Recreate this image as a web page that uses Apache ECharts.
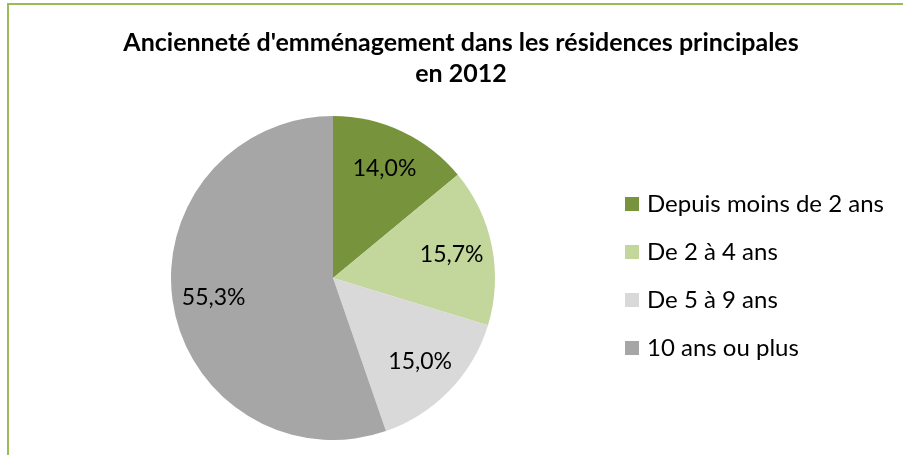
<!DOCTYPE html>
<html>
<head>
<meta charset="utf-8">
<script src="https://cdn.jsdelivr.net/npm/echarts@6/dist/echarts.min.js"></script>
<style>
  html, body { margin: 0; padding: 0; background: #ffffff; }
  #chart { width: 903px; height: 455px; }
</style>
</head>
<body>
<div id="chart"></div>
<script>
  // data
  var categories = ['Depuis moins de 2 ans', 'De 2 à 4 ans', 'De 5 à 9 ans', '10 ans ou plus']
  var shares = [14.0, 15.7, 15.0, 55.3]
  var colors = ['#77933C', '#C3D69B', '#D9D9D9', '#A6A6A6']
  var titleText = "Ancienneté d'emménagement dans les résidences principales\nen 2012"

  var pieData = categories.map(function (name, i) {
    return { name: name, value: shares[i], itemStyle: { color: colors[i] } }
  })

  var chart = echarts.init(document.getElementById('chart'), null, { renderer: 'canvas' })

  chart.setOption({
    backgroundColor: '#ffffff',
    animation: false,
    title: {
      text: titleText,
      left: 461,
      top: 27,
      textAlign: 'center',
      padding: 0,
      textStyle: {
        fontFamily: 'Lato',
        fontWeight: 'bold',
        fontSize: 25,
        lineHeight: 31,
        color: '#000000'
      }
    },
    legend: {
      orient: 'vertical',
      left: 625,
      top: 192,
      padding: 0,
      icon: 'rect',
      itemWidth: 14,
      itemHeight: 14,
      itemGap: 24,
      data: categories,
      textStyle: {
        fontFamily: 'Lato',
        fontSize: 24,
        color: '#000000',
        padding: [0, 0, 0, 3]
      }
    },
    graphic: [{
      type: 'rect',
      shape: { x: 8, y: 4, width: 1000, height: 1000 },
      style: { fill: 'none', stroke: '#9BBB59', lineWidth: 2 },
      silent: true
    }],
    series: [{
      name: 'pie',
      type: 'pie',
      center: [333, 278],
      radius: 162,
      startAngle: 90,
      clockwise: true,
      label: { show: false },
      labelLine: { show: false },
      itemStyle: { borderWidth: 0 },
      emphasis: { disabled: true },
      data: pieData
    }, {
      // transparent ring, only used to place the value labels further out
      name: 'labels',
      type: 'pie',
      center: [333, 278],
      radius: [101, 135],
      startAngle: 90,
      clockwise: true,
      silent: true,
      itemStyle: { color: 'transparent', borderWidth: 0 },
      label: {
        show: true,
        position: 'inside',
        fontFamily: 'Lato',
        fontSize: 23,
        color: '#000000',
        formatter: function (p) {
          return p.value.toFixed(1).replace('.', ',') + '%'
        }
      },
      labelLine: { show: false },
      emphasis: { disabled: true },
      data: categories.map(function (name, i) {
        return { name: name, value: shares[i] }
      })
    }]
  })
</script>
</body>
</html>
